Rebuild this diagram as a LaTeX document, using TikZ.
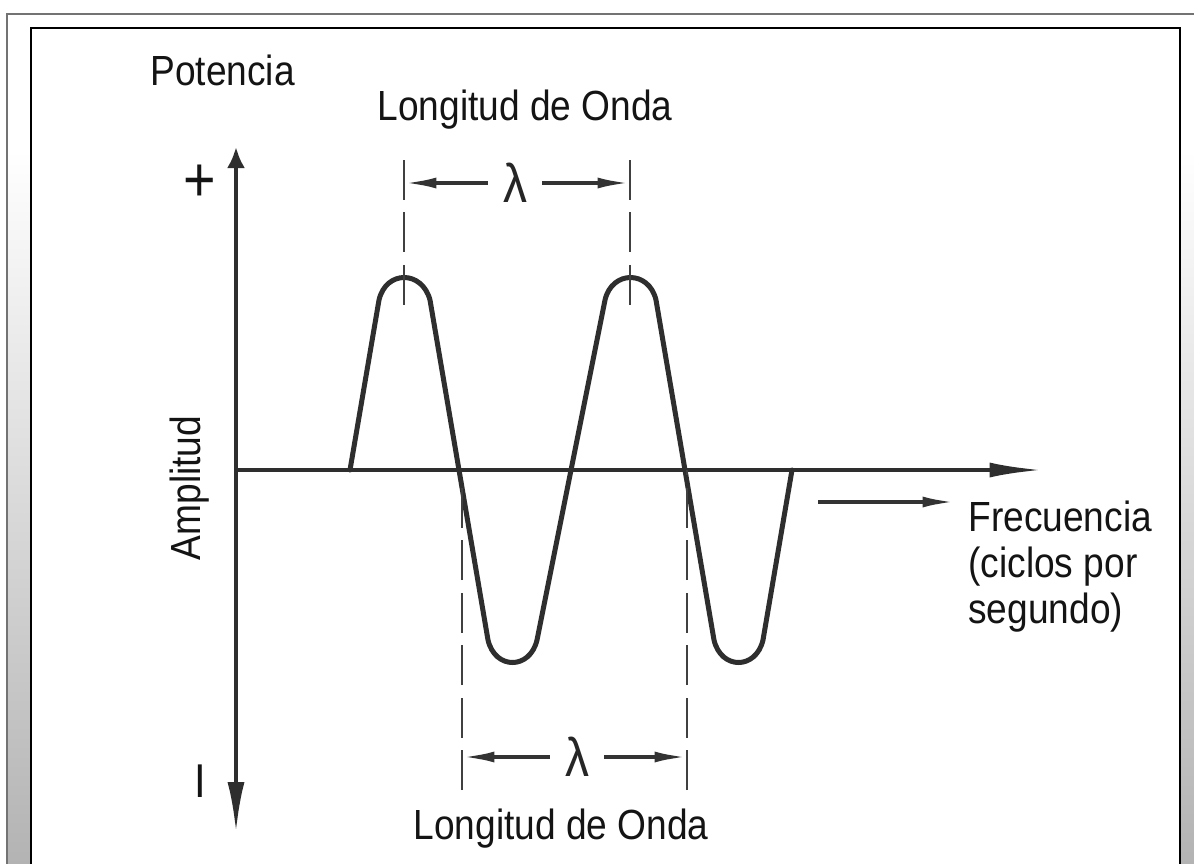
\documentclass[tikz,border=0pt]{standalone}
\usepackage{fontspec}
\setmainfont[FakeStretch=0.88]{Liberation Sans}
\usetikzlibrary{arrows.meta}
\begin{document}
\begin{tikzpicture}[x=0.02cm,y=-0.02cm,
  lbl/.style={font=\fontsize{24}{26}\selectfont, text=black!92, inner sep=0pt},
  lamlbl/.style={font=\fontsize{31}{31}\selectfont, text=black!85, inner xsep=0.3cm, inner ysep=0pt},
  axisline/.style={line width=0.08cm, draw=black!82},
  wave/.style={line width=0.1cm, draw=black!82, line join=round, line cap=round},
  guide/.style={line width=0.05cm, draw=black!75, dash pattern=on 0.8cm off 0.25cm},
  dimarrow/.style={line width=0.075cm, draw=black!80, -{Latex[length=0.65cm,width=0.22cm]}},
]
\useasboundingbox (0,0) rectangle (1194,863);
\clip (0,0) rectangle (1194,863);
\fill[white] (0,0) rectangle (1194,863);
% frame
\shade[top color=white, bottom color=black!30] (7,150) rectangle (1200,870);
\draw[black!55, line width=0.05cm] (7,880) -- (7,14) -- (1210,14);
\fill[white] (31,28) rectangle (1180,880);
\draw[black, line width=0.045cm] (31,880) -- (31,28) -- (1180,28) -- (1180,880);

% axes
\coordinate (otop) at (236,147);
\coordinate (obot) at (236,832);
\coordinate (o) at (236,470);
\coordinate (xend) at (1042,470);
\draw[axisline, {Latex[length=0.42cm,width=0.36cm]}-{Latex[length=1.0cm,width=0.34cm]}] (otop) -- (obot);
\draw[axisline, -{Latex[length=1.05cm,width=0.3cm]}] (o) -- (xend);

% wave
\draw[wave] (350,470) -- (379,300) .. controls (386,270) and (422,270) .. (430,300)
  -- (488,640) .. controls (495,670) and (530,670) .. (537,640)
  -- (605,300) .. controls (612,270) and (649,270) .. (656,300)
  -- (714,640) .. controls (721,670) and (756,670) .. (763,640)
  -- (792,470);

% guides
\coordinate (t1) at (404,183);
\coordinate (t2) at (630,183);
\coordinate (b1) at (462,757);
\coordinate (b2) at (687,757);
\draw[guide] (404,160) -- (404,305);
\draw[guide] (630,160) -- (630,305);
\draw[guide] (462,790) -- (462,480);
\draw[guide] (687,790) -- (687,470);

% dimension labels
\node[lamlbl] (lam1) at (515,183) {λ};
\node[lamlbl] (lam2) at (577,757) {λ};
\draw[dimarrow] (lam1) -- (t1);
\draw[dimarrow] (lam1) -- (t2);
\draw[dimarrow] (lam2) -- (b1);
\draw[dimarrow] (lam2) -- (b2);

% labels
\node[lbl, anchor=base west] (pot) at (150,85) {Potencia};
\node[lbl, anchor=base] (lon1) at (525,120) {Longitud de Onda};
\node[lbl, anchor=base] (lon2) at (561,839) {Longitud de Onda};
\node[lbl, font=\fontsize{36}{36}\selectfont] (plus) at (200,183) {+};
\node[lbl, font=\fontsize{27}{27}\selectfont] (minus) at (200,781) {I};
\node[lbl, rotate=90] (amp) at (190,488) {Amplitud};
\node[lbl, align=left, anchor=north west] (freq) at (968,501) {Frecuencia\\(ciclos por\\segundo)};
\coordinate (fa1) at (818,502);
\coordinate (fa2) at (955,502);
\draw[dimarrow] (fa1) -- (fa2);
\end{tikzpicture}
\end{document}
